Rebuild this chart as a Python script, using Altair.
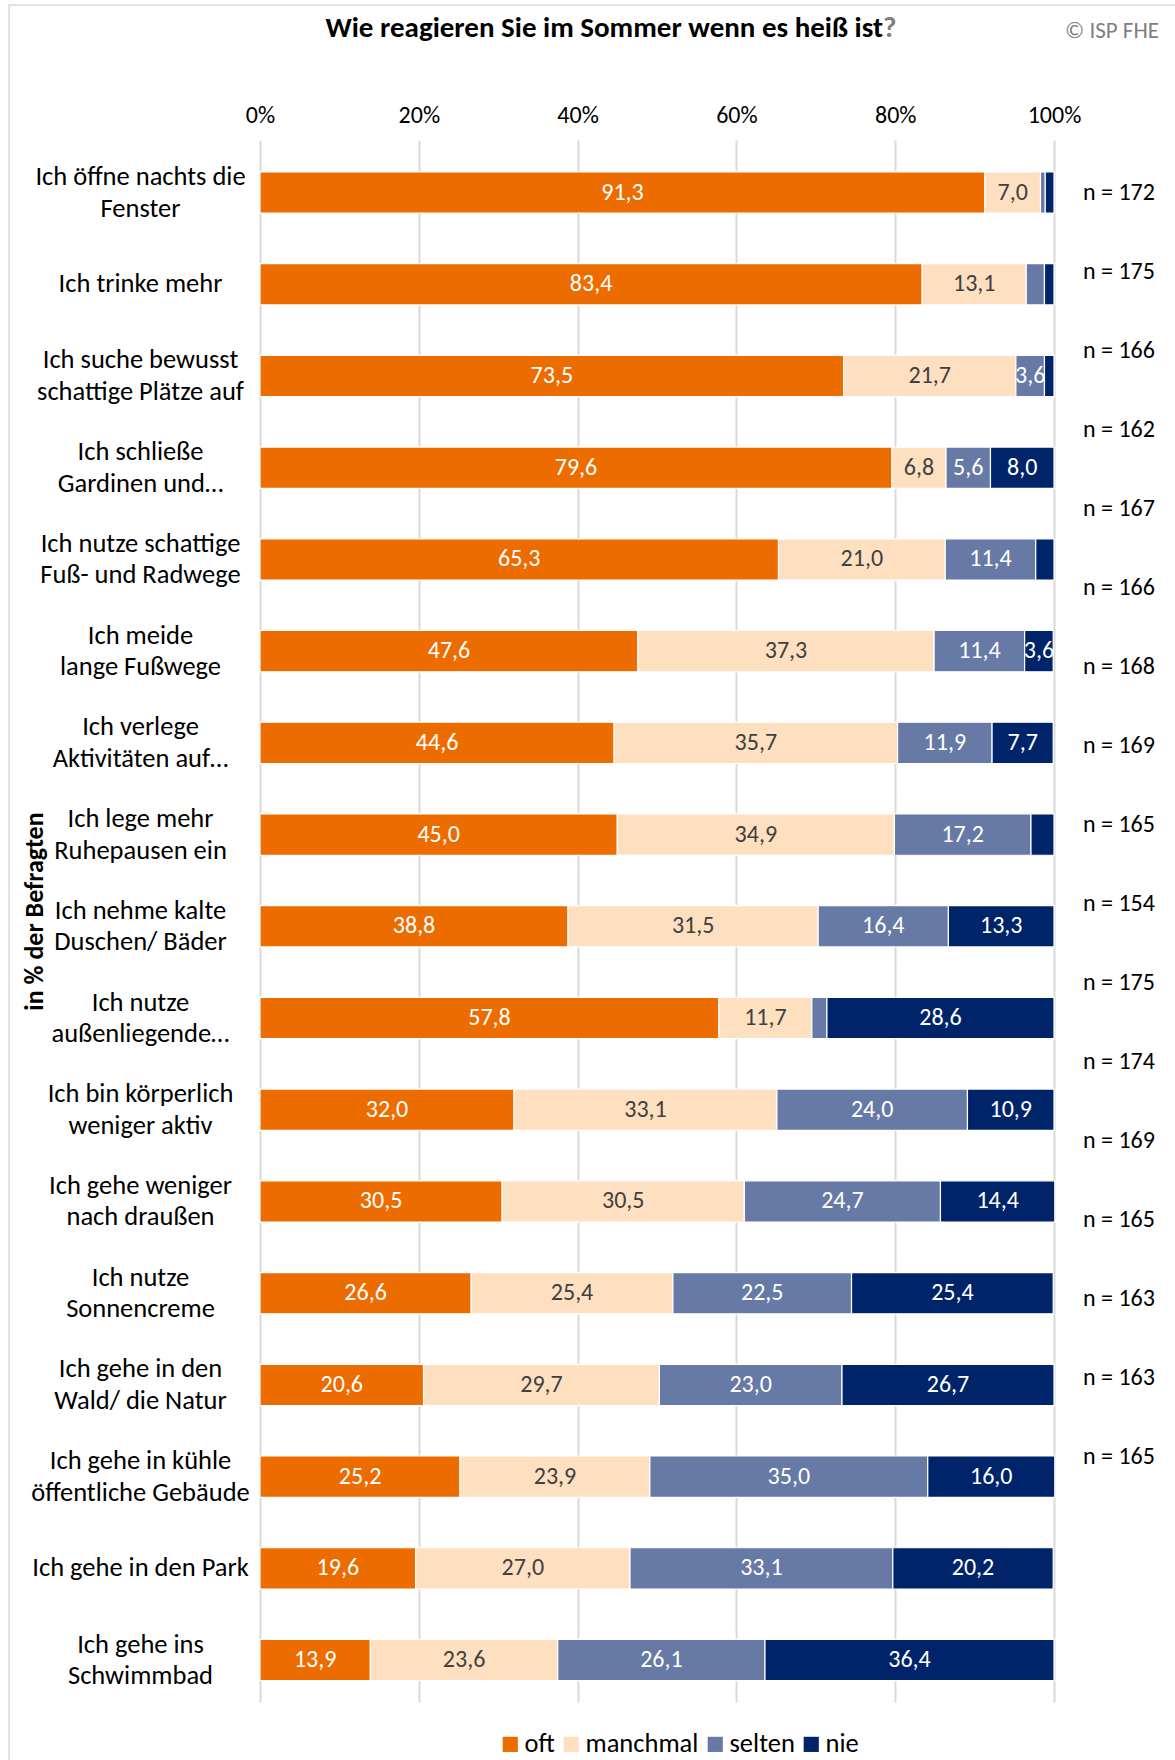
import altair as alt
import pandas as pd

FONT = "Carlito, Calibri, Lato, sans-serif"

items = [
    "Ich öffne nachts die\nFenster",
    "Ich trinke mehr",
    "Ich suche bewusst\nschattige Plätze auf",
    "Ich schließe\nGardinen und…",
    "Ich nutze schattige\nFuß- und Radwege",
    "Ich meide\nlange Fußwege",
    "Ich verlege\nAktivitäten auf…",
    "Ich lege mehr\nRuhepausen ein",
    "Ich nehme kalte\nDuschen/ Bäder",
    "Ich nutze\naußenliegende…",
    "Ich bin körperlich\nweniger aktiv",
    "Ich gehe weniger\nnach draußen",
    "Ich nutze\nSonnencreme",
    "Ich gehe in den\nWald/ die Natur",
    "Ich gehe in kühle\nöffentliche Gebäude",
    "Ich gehe in den Park",
    "Ich gehe ins\nSchwimmbad",
]

categories = ["oft", "manchmal", "selten", "nie"]
colors = ["#EC6C00", "#FEE0C0", "#6779A5", "#002469"]

oft = [91.3, 83.4, 73.5, 79.6, 65.3, 47.6, 44.6, 45.0, 38.8, 57.8, 32.0, 30.5, 26.6, 20.6, 25.2, 19.6, 13.9]
manchmal = [7.0, 13.1, 21.7, 6.8, 21.0, 37.3, 35.7, 34.9, 31.5, 11.7, 33.1, 30.5, 25.4, 29.7, 23.9, 27.0, 23.6]
selten = [0.6, 2.3, 3.6, 5.6, 11.4, 11.4, 11.9, 17.2, 16.4, 1.9, 24.0, 24.7, 22.5, 23.0, 35.0, 33.1, 26.1]
nie = [1.1, 1.2, 1.2, 8.0, 2.3, 3.6, 7.7, 2.9, 13.3, 28.6, 10.9, 14.4, 25.4, 26.7, 16.0, 20.2, 36.4]

n_labels = ["n = 172", "n = 175", "n = 166", "n = 162", "n = 167", "n = 166", "n = 168", "n = 169",
            "n = 165", "n = 154", "n = 175", "n = 174", "n = 169", "n = 165", "n = 163", "n = 163", "n = 165"]

title_main = "Wie reagieren Sie im Sommer wenn es heiß ist"
title_mark = "?"
source_note = "© ISP FHE"

rows = []
for i, it in enumerate(items):
    for k, (cat, vals) in enumerate(zip(categories, [oft, manchmal, selten, nie])):
        rows.append({"item": it, "cat": cat, "order": k, "value": vals[i]})
df = pd.DataFrame(rows)

ndf = pd.DataFrame({"label": n_labels, "pos": list(range(len(n_labels)))})

W, H = 794, 1562

y_enc = alt.Y(
    "item:N",
    sort=items,
    scale=alt.Scale(paddingInner=0.55, paddingOuter=0.29, align=0.6),
    axis=alt.Axis(
        title="in % der Befragten",
        titleFont=FONT,
        titleFontSize=26,
        titleFontWeight="bold",
        titleColor="#000000",
        titleAngle=-90,
        titleX=-226,
        titleY=771,
        titleAlign="center",
        titleBaseline="middle",
        labelExpr="split(datum.label, '\\n')",
        labelAlign="center",
        labelPadding=120,
        labelOffset={"condition": {"test": "indexof(datum.value, '\\n') >= 0", "value": -15.5}, "value": 0},
        labelFont=FONT,
        labelFontSize=26.5,
        labelColor="#000000",
        labelLineHeight=31.5,
        ticks=False,
        tickSize=0,
        domain=False,
        grid=False,
        labelLimit=400,
    ),
)

x_axis = alt.Axis(
    orient="top",
    format="%",
    values=[0, 0.2, 0.4, 0.6, 0.8, 1.0],
    labelFont=FONT,
    labelFontSize=24,
    labelColor="#000000",
    labelPadding=13,
    labelFlush=False,
    labelOverlap=False,
    ticks=False,
    tickSize=0,
    domain=False,
    grid=True,
    gridColor="#D9D9D9",
    gridWidth=2,
    title=None,
)

base = alt.Chart(df).transform_calculate(
    frac="datum.value / 100"
).transform_stack(
    stack="frac", groupby=["item"], sort=[alt.SortField("order")], as_=["x0", "x1"]
).transform_calculate(
    mid="(datum.x0 + datum.x1) / 2",
    lbl="replace(format(datum.value, '.1f'), '.', ',')",
)

bars = base.mark_bar(stroke="white", strokeWidth=1.2).encode(
    x=alt.X("x0:Q", scale=alt.Scale(domain=[0, 1], nice=False), axis=x_axis),
    x2="x1:Q",
    y=y_enc,
    color=alt.Color(
        "cat:N",
        scale=alt.Scale(domain=categories, range=colors),
        legend=alt.Legend(
            title=None,
            orient="none",
            direction="horizontal",
            legendX=237,
            legendY=1591,
            symbolType="square",
            symbolSize=230,
            symbolStrokeWidth=0,
            labelFont=FONT,
            labelFontSize=26.5,
            labelColor="#000000",
            labelOffset=1,
            columnPadding=3,
        ),
    ),
    order=alt.Order("order:Q"),
)

texts = base.transform_filter("datum.value >= 3").mark_text(
    font=FONT, fontSize=24, baseline="middle", align="center"
).encode(
    x=alt.X("mid:Q"),
    y=alt.Y("item:N", sort=items),
    text="lbl:N",
    color=alt.condition("datum.cat == 'manchmal'", alt.value("#404040"), alt.value("#FFFFFF")),
)

nlab = alt.Chart(ndf).mark_text(
    font=FONT, fontSize=24, align="left", baseline="middle", color="#000000", dx=29
).encode(
    x=alt.datum(1),
    y=alt.Y("pos:Q", scale=alt.Scale(domain=[-0.67, 19.1], reverse=True, nice=False, zero=False), axis=None),
    text="label:N",
)

frame = alt.Chart(pd.DataFrame({"a": [0]})).mark_rect(
    fill=None, stroke="#D9D9D9", strokeWidth=1.5
).encode(
    x=alt.value(-251), x2=alt.value(W + 200), y=alt.value(-135), y2=alt.value(H + 200)
)

note_df = pd.DataFrame({"main": [title_main], "q": [title_mark], "src": [source_note]})

title_text = alt.Chart(note_df).mark_text(
    font=FONT, fontSize=29, fontWeight="bold", color="#000000", align="right", baseline="middle"
).encode(x=alt.value(623), y=alt.value(-112), text="main:N")

title_q = alt.Chart(note_df).mark_text(
    font=FONT, fontSize=29, fontWeight="bold", color="#7F7F7F", align="left", baseline="middle"
).encode(x=alt.value(623), y=alt.value(-112), text="q:N")

copyright_note = alt.Chart(note_df).mark_text(
    font=FONT, fontSize=23, color="#7F7F7F", align="right", baseline="middle"
).encode(x=alt.value(W + 105), y=alt.value(-109), text="src:N")

main = alt.layer(bars, texts).resolve_scale(y="shared")

chart = alt.layer(frame, main, nlab, title_text, title_q, copyright_note).resolve_scale(y="independent").properties(
    width=W,
    height=H,
    autosize=alt.AutoSizeParams(type="none"),
    padding={"left": 260, "top": 140, "right": 121, "bottom": 58},
).configure_view(stroke=None)

chart.save("out.html", embed_options={"renderer": "svg", "actions": False})
